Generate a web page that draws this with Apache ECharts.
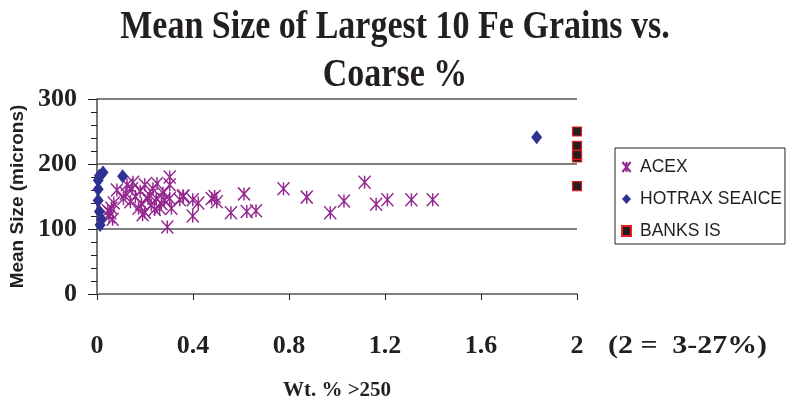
<!DOCTYPE html>
<html>
<head>
<meta charset="utf-8">
<script src="https://cdn.jsdelivr.net/npm/echarts@6/dist/echarts.min.js"></script>
<style>html,body{margin:0;padding:0;background:#fff}#c{width:787px;height:404px}</style>
</head>
<body>
<div id="c"></div>
<script>
const titleLines = ["Mean Size of Largest 10 Fe Grains vs.", "Coarse %"];
const xName = "Wt. % >250";
const yName = "Mean Size (microns)";
const xNote = "(2 =  3-27%)";
const xTicks = [0, 0.4, 0.8, 1.2, 1.6, 2];
const yTicks = [0, 100, 200, 300];

const acex = [
  [0.05,119],[0.055,125],[0.06,132],[0.045,128],[0.07,140],[0.065,115],
  [0.083,160],[0.11,147],[0.125,168],[0.146,162],[0.16,150],[0.139,142],[0.173,132],[0.12,155],[0.15,172],[0.18,158],
  [0.185,139],[0.19,122],[0.199,126],[0.199,168],[0.2125,147],[0.226,137],[0.233,162],[0.247,147],[0.261,132],[0.268,139],
  [0.275,155],[0.303,147],[0.31,132],[0.303,180],[0.303,168],[0.293,103],[0.345,145],[0.358,150],[0.24,130],[0.22,152],
  [0.25,170],[0.28,145],
  [0.36,151],[0.399,145],[0.422,140],[0.399,120],[0.478,147],[0.499,142],[0.49,150],
  [0.558,125],[0.6125,154],[0.624,127],[0.6625,128],
  [0.777,162],[0.874,149],[0.972,125],[1.029,143],[1.115,172],[1.163,138],[1.21,145],[1.31,145],[1.399,145]
];
const hotrax = [
  [0.025,187],[0.01,182],[0.005,175],[0.005,161],[0.005,144],[0.01,127],[0.018,115],[0.013,106],[0.107,181],[1.832,241]
];
const banks = [
  [2,250],[2,228],[2,210],[2,214],[2,166]
];

const chart = echarts.init(document.getElementById('c'), null, {renderer: 'canvas'});
const serif = '"Liberation Serif", "Times New Roman", serif';
const sans = '"Liberation Sans", Arial, sans-serif';
const ink = '#231f20';
const option = {
  animation: false,
  backgroundColor: '#ffffff',
  grid: {left: 97, top: 99, width: 480, height: 195, containLabel: false, outerBoundsMode: 'none'},
  legend: {
    orient: 'vertical',
    left: 615, top: 148,
    padding: [9, 3, 3, 6],
    itemGap: 12,
    itemWidth: 9, itemHeight: 10,
    borderColor: ink, borderWidth: 1,
    textStyle: {fontFamily: sans, fontSize: 17.5, lineHeight: 20, color: ink, padding: [0, 0, 0, 4]},
    data: ['ACEX', 'HOTRAX SEAICE', 'BANKS IS']
  },
  xAxis: {
    type: 'value', min: xTicks[0], max: xTicks[xTicks.length-1], interval: 0.4,
    name: xName, nameLocation: 'middle', nameGap: 86,
    nameTextStyle: {fontFamily: serif, fontWeight: 'bold', fontSize: 21, color: ink},
    axisLine: {show: true, lineStyle: {color: '#808080', width: 2}},
    axisTick: {show: true, inside: false, length: 6, lineStyle: {color: ink, width: 1}},
    axisLabel: {margin: 39, fontFamily: serif, fontWeight: 'bold', fontSize: 26, color: ink},
    splitLine: {show: false}
  },
  yAxis: {
    type: 'value', min: yTicks[0], max: yTicks[yTicks.length-1], interval: 100,
    name: yName, nameLocation: 'middle', nameGap: 69,
    nameTextStyle: {fontFamily: sans, fontWeight: 'bold', fontSize: 19, color: ink},
    axisLine: {show: true, lineStyle: {color: '#4d4d4d', width: 1.5}},
    axisTick: {show: true, inside: false, length: 9, lineStyle: {color: ink, width: 1}},
    minorTick: {show: true, splitNumber: 5, length: 6, lineStyle: {color: ink, width: 1}},
    axisLabel: {margin: 20, fontFamily: serif, fontWeight: 'bold', fontSize: 26, color: ink},
    splitLine: {show: true, lineStyle: {color: '#808080', width: 2}}
  },
  graphic: [
    {
      type: 'text', x: 395, y: 27, scaleY: 1.2,
      style: {text: titleLines[0], font: 'bold 34px ' + serif, fill: ink, align: 'center', verticalAlign: 'middle'}
    },
    {
      type: 'text', x: 395, y: 75, scaleY: 1.2,
      style: {text: titleLines[1], font: 'bold 34px ' + serif, fill: ink, align: 'center', verticalAlign: 'middle'}
    },
    {
      type: 'text', x: 608, y: 346, scaleX: 1.15,
      style: {text: xNote, font: 'bold 26px ' + serif, fill: ink, align: 'left', verticalAlign: 'middle'}
    }
  ],
  series: [
    {
      name: 'ACEX', type: 'scatter', data: acex,
      symbol: 'path://M0,0L10,12M10,0L0,12M5,0L5,12', symbolSize: [12, 13],
      itemStyle: {color: 'rgba(0,0,0,0)', borderColor: '#93278f', borderWidth: 1.5, opacity: 1}
    },
    {
      name: 'HOTRAX SEAICE', type: 'scatter', data: hotrax,
      symbol: 'diamond', symbolSize: [11, 14],
      itemStyle: {color: '#2e3192', opacity: 1}
    },
    {
      name: 'BANKS IS', type: 'scatter', data: banks,
      symbol: 'rect', symbolSize: 9,
      itemStyle: {color: ink, borderColor: '#ed1c24', borderWidth: 1.2, opacity: 1}
    }
  ]
};
chart.setOption(option);
</script>
</body>
</html>
